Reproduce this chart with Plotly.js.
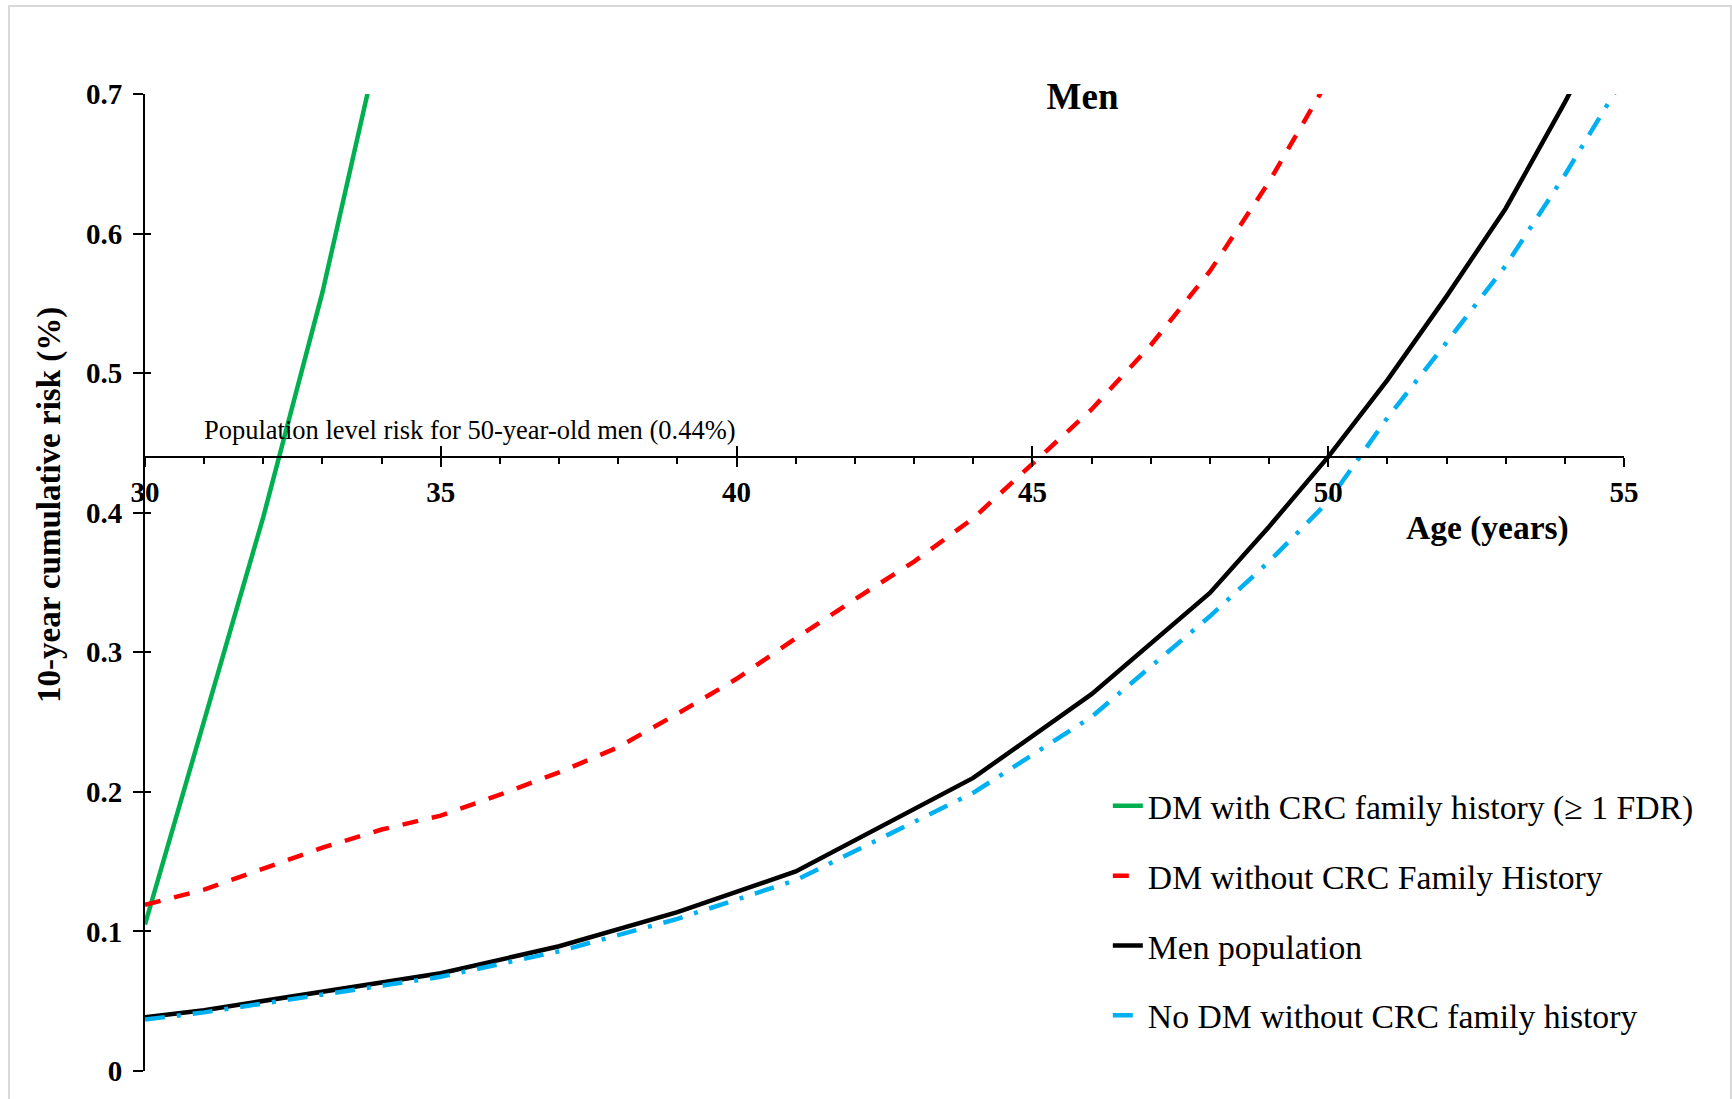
<!DOCTYPE html>
<html>
<head>
<meta charset="utf-8">
<script src="https://cdn.plot.ly/plotly-3.0.1.min.js"></script>
<style>
  html, body { margin: 0; padding: 0; background: #ffffff; }
  #chart { width: 1732px; height: 1099px; }
</style>
</head>
<body>
<div id="chart"></div>
<script>
// ---- Data ----
const seriesNames = [
  "DM with CRC family history (\u2265 1 FDR)",
  "DM without CRC Family History",
  "Men population",
  "No DM without CRC family history"
];

const agesDmFh = [30, 31, 32, 33, 34];
const riskDmFh = [0.105, 0.250, 0.397, 0.558, 0.745];

const agesDmNoFh = [30, 31, 32, 33, 34, 35, 36, 37, 38, 39, 40, 41, 42, 43, 44, 45, 46, 47, 48, 49, 50];
const riskDmNoFh = [0.119, 0.130, 0.145, 0.160, 0.173, 0.183, 0.198, 0.214, 0.232, 0.256, 0.281,
                    0.310, 0.338, 0.365, 0.396, 0.435, 0.474, 0.520, 0.573, 0.637, 0.710];

const agesMen = [30, 31, 35, 37, 39, 41, 44, 46, 48, 49, 50, 51, 52, 53, 54, 55];
const riskMen = [0.0385, 0.0436, 0.070, 0.0894, 0.1138, 0.143, 0.210, 0.270, 0.3425, 0.390, 0.440,
                 0.495, 0.555, 0.618, 0.694, 0.775];

const agesNoDm = [30, 31, 35, 37, 39, 41, 44, 46, 48, 49, 50, 51, 52, 53, 54, 55];
const riskNoDm = [0.0369, 0.042, 0.0675, 0.0858, 0.109, 0.1367, 0.1993, 0.2537, 0.3258, 0.365, 0.408,
                  0.468, 0.522, 0.577, 0.642, 0.712];

const populationRisk = 0.44;
const xTickVals = [30, 35, 40, 45, 50, 55];
const yTickVals = [0, 0.1, 0.2, 0.3, 0.4, 0.5, 0.6, 0.7];

// ---- Chart ----
const FONT = "Liberation Serif, Times New Roman, serif";
const yMax = 0.7;
const xRange = [30, 55];

const traces = [
  { x: agesDmFh, y: riskDmFh, name: seriesNames[0], mode: "lines", legendgroup: "a",
    line: { color: "#00b050", width: 4.5 } },
  { x: agesDmNoFh, y: riskDmNoFh, name: seriesNames[1], mode: "lines", legendgroup: "b",
    line: { color: "#ff0000", width: 4.5, dash: "16px,14px" } },
  { x: agesMen, y: riskMen, name: seriesNames[2], mode: "lines", legendgroup: "c",
    line: { color: "#000000", width: 4.5 } },
  { x: agesNoDm, y: riskNoDm, name: seriesNames[3], mode: "lines", legendgroup: "d",
    line: { color: "#00b0f0", width: 4.5, dash: "20px,12px,4px,12px" } }
];

const layout = {
  width: 1732,
  height: 1099,
  margin: { l: 145, r: 108, t: 94, b: 28 },
  paper_bgcolor: "#ffffff",
  plot_bgcolor: "#ffffff",
  font: { family: FONT, color: "#000000" },
  title: {
    text: "Men",
    font: { family: FONT, size: 37, weight: "bold", color: "#000000" },
    xref: "container", yref: "container",
    x: 0.625, xanchor: "center",
    y: 0.913, yanchor: "middle"
  },
  xaxis: {
    range: xRange,
    anchor: "free",
    position: populationRisk / yMax,
    showline: true, linecolor: "#000000", linewidth: 2,
    showgrid: false, zeroline: false,
    tickmode: "array", tickvals: xTickVals,
    ticks: "outside", ticklen: 9, tickwidth: 2, tickcolor: "#000000",
    ticklabelstandoff: 0,
    tickfont: { family: FONT, size: 29, weight: "bold", color: "#000000" },
    minor: { dtick: 1, ticks: "outside", ticklen: 6, tickwidth: 2, tickcolor: "#000000", showgrid: false }
  },
  // second x axis on the same line: upward part of the crossing major ticks
  xaxis2: {
    range: xRange,
    overlaying: "x",
    side: "bottom",
    anchor: "free",
    position: populationRisk / yMax,
    showline: false, showgrid: false, zeroline: false,
    tickmode: "array", tickvals: xTickVals,
    ticks: "inside", ticklen: 11, tickwidth: 2, tickcolor: "#000000",
    showticklabels: false
  },
  yaxis: {
    range: [0, yMax],
    showline: true, linecolor: "#000000", linewidth: 2,
    showgrid: false, zeroline: false,
    tickmode: "array", tickvals: yTickVals,
    ticks: "outside", ticklen: 10, tickwidth: 2, tickcolor: "#000000",
    ticklabelstandoff: 5,
    tickfont: { family: FONT, size: 29, weight: "bold", color: "#000000" }
  },
  // second y axis on the same line: right-hand part of the crossing ticks
  yaxis2: {
    range: [0, yMax],
    overlaying: "y",
    side: "left",
    anchor: "x",
    showline: false, showgrid: false, zeroline: false,
    tickmode: "array", tickvals: yTickVals,
    ticks: "inside", ticklen: 6, tickwidth: 2, tickcolor: "#000000",
    showticklabels: false
  },
  showlegend: true,
  legend: {
    x: 0.651, xanchor: "left",
    y: 0.3005, yanchor: "top",
    traceorder: "grouped",
    tracegroupgap: 23,
    bgcolor: "rgba(255,255,255,0)",
    font: { family: FONT, size: 33.7, color: "#000000" }
  },
  annotations: [
    { x: 30.96, y: 0.459, xref: "x", yref: "y", xanchor: "left", yanchor: "middle",
      text: "Population level risk for 50-year-old men (0.44%)", showarrow: false,
      font: { family: FONT, size: 26.5, color: "#000000" } },
    { x: 0, y: 0, xref: "paper", yref: "paper", showarrow: false,
      text: "Age (years)", xanchor: "center", yanchor: "middle",
      font: { family: FONT, size: 33.5, weight: "bold", color: "#000000" } },
    { x: 0, y: 0, xref: "paper", yref: "paper", showarrow: false,
      text: "10-year cumulative risk (%)", textangle: -90, xanchor: "center", yanchor: "middle",
      font: { family: FONT, size: 33, weight: "bold", color: "#000000" } }
  ],
  shapes: [
    { type: "rect", xref: "paper", yref: "paper", layer: "below",
      x0: 0, x1: 1, y0: 0, y1: 1, line: { color: "#d9d9d9", width: 2 } }
  ]
};

// Place pixel-measured labels and the outer frame as paper fractions of the plot area
const plotL = layout.margin.l, plotR = layout.width - layout.margin.r;
const plotT = layout.margin.t, plotB = layout.height - layout.margin.b;
const pw = plotR - plotL, ph = plotB - plotT;
function px2x(px) { return (px - plotL) / pw; }
function py2y(pyFromBottom) { return (pyFromBottom - layout.margin.b) / ph; }
layout.annotations[1].x = px2x(1487); layout.annotations[1].y = py2y(1099 - 528);
layout.annotations[2].x = px2x(50);   layout.annotations[2].y = py2y(1099 - 505);
layout.shapes[0].x0 = px2x(9);  layout.shapes[0].x1 = px2x(1731);
layout.shapes[0].y0 = py2y(-5); layout.shapes[0].y1 = py2y(1099 - 6);

// invisible helper trace so the overlaying tick axes are drawn
traces.push({ x: [xRange[0]], y: [0], xaxis: "x2", yaxis: "y2", mode: "markers",
  marker: { opacity: 0 }, showlegend: false, hoverinfo: "skip" });

Plotly.newPlot("chart", traces, layout, { displayModeBar: false, staticPlot: true });
</script>
</body>
</html>
